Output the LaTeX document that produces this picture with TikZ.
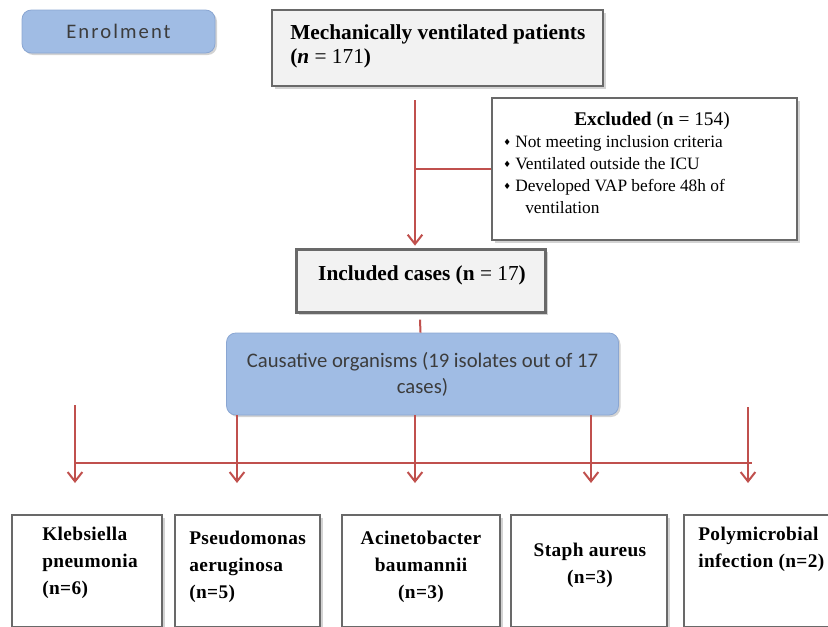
\documentclass[tikz,border=0pt]{standalone}
\usepackage{fontspec}
\setmainfont{Liberation Serif}
\newfontfamily\calibrifont{Carlito}
\newfontfamily\symbolfont{DejaVu Sans}
\usetikzlibrary{positioning,calc,arrows.meta,shadows}

\definecolor{flowred}{RGB}{192,80,77}
\definecolor{paleblue}{RGB}{160,188,228}
\definecolor{blueedge}{RGB}{138,166,210}
\definecolor{paper}{RGB}{242,242,242}
\definecolor{frame}{RGB}{105,105,105}
\definecolor{inktext}{RGB}{60,60,60}

\newcommand{\bul}{\makebox[9pt][l]{\symbolfont\fontsize{6.5}{8}\selectfont\raisebox{1pt}{♦}}}

\tikzset{
  greybox/.style={draw=frame, line width=1.8pt, fill=paper,
    drop shadow={shadow xshift=2pt, shadow yshift=-2pt, opacity=0.35}},
  whitebox/.style={draw=frame, line width=1.8pt, fill=white,
    drop shadow={shadow xshift=2pt, shadow yshift=-2pt, opacity=0.35}},
  bluebox/.style={draw=blueedge, line width=0.6pt, fill=paleblue, rounded corners=7pt,
    text=inktext, font=\calibrifont\fontsize{15.5}{19.5}\selectfont, align=center,
    drop shadow={shadow xshift=1.5pt, shadow yshift=-1.5pt, opacity=0.35}},
  headtext/.style={font=\bfseries\fontsize{16}{18}\selectfont, inner sep=0pt, align=left},
  orgtext/.style={font=\bfseries\fontsize{14.5}{20}\selectfont\addfontfeatures{LetterSpace=2},
    inner sep=0pt, align=left},
  listtext/.style={font=\fontsize{13}{16.5}\selectfont, inner sep=0pt, align=left},
  redline/.style={draw=flowred, line width=1.5pt},
  redarrow/.style={redline, -{Straight Barb[length=7pt,width=11pt]}}
}

\begin{document}
\begin{tikzpicture}[x=0.75pt, y=-0.75pt]
  \useasboundingbox (0,0) rectangle (828,626);

  % stage label
  \node[bluebox, minimum width=144.75pt, minimum height=32.25pt] (enrol) at (118.5,31.5)
    {\addfontfeatures{LetterSpace=10}Enrolment};

  % flow boxes
  \node[greybox, minimum width=248.25pt, minimum height=57pt] (mech) at (437.5,48) {};
  \node[headtext, anchor=north west] (mechtext) at (290,24)
    {Mechanically ventilated patients\\(\textit{n} {\mdseries = 171})};

  \node[whitebox, minimum width=228.75pt, minimum height=106.5pt] (excl) at (644.5,169) {};
  \node[font=\fontsize{14.5}{17}\selectfont, inner sep=0pt, anchor=north] (exclhead) at (652,112)
    {\textbf{Excluded} (\textbf{n} = 154)};
  \node[listtext, anchor=north west] (excllist) at (503,135)
    {\bul Not meeting inclusion criteria\\
     \bul Ventilated outside the ICU\\
     \bul Developed VAP before 48h of\\
     \hspace*{16.5pt}ventilation};

  \node[greybox, minimum width=186.75pt, minimum height=47.25pt] (incl) at (421,281) {};
  \node[headtext, anchor=north] (incltext) at (422,265)
    {Included cases ({\bfseries n} {\mdseries = 17})};

  \node[bluebox, minimum width=294pt, minimum height=61.5pt] (cause) at (422.5,374)
    {Causative organisms (19 isolates out of 17\\cases)};

  % organism boxes
  \node[whitebox, minimum width=112.5pt, minimum height=84pt] (kleb) at (87,571) {};
  \node[whitebox, minimum width=108.75pt, minimum height=84pt] (pseu) at (247.5,571) {};
  \node[whitebox, minimum width=118.5pt, minimum height=84pt] (acin) at (421,571) {};
  \node[whitebox, minimum width=117pt, minimum height=84pt] (stap) at (589,571) {};
  \node[whitebox, minimum width=117pt, minimum height=84pt] (poly) at (762,571) {};

  \node[orgtext, anchor=north west] (klebtext) at (42,527) {Klebsiella\\pneumonia\\(n=6)};
  \node[orgtext, anchor=north west] (pseutext) at (189,531) {Pseudomonas\\aeruginosa\\(n=5)};
  \node[orgtext, anchor=north, align=center] (acintext) at (421,531) {Acinetobacter\\baumannii\\(n=3)};
  \node[orgtext, anchor=north, align=center] (staptext) at (590,543) {Staph aureus\\(n=3)};
  \node[orgtext, anchor=north west] (polytext) at (698,527) {Polymicrobial\\infection (n=2)};

  % connectors
  \coordinate (trunktop) at (415,100);
  \draw[redarrow] (trunktop) -- ([yshift=2pt]trunktop |- incl.north);
  \draw[redline] (trunktop |- excl.west) -- (excl.west);
  \draw[redline] ($(incl.south)+(-1,6)$) -- ($(cause.north)+(-2,0)$);

  \coordinate (klebtip) at (75,483);
  \coordinate (pseutip) at (237,483);
  \coordinate (acintip) at (415,483);
  \coordinate (staptip) at (591,483);
  \coordinate (polytip) at (748,483);
  \coordinate (busL) at (75,463);
  \coordinate (busR) at (752,463);
  \coordinate (leftfree) at (75,405);
  \coordinate (rightfree) at (748,407);
  \draw[redline] (busL) -- (busR);
  \draw[redarrow] (leftfree) -- (klebtip);
  \foreach \nm in {pseu, acin, stap}
    \draw[redarrow] (cause.south -| \nm tip) -- (\nm tip);
  \draw[redarrow] (rightfree) -- (polytip);
\end{tikzpicture}
\end{document}
